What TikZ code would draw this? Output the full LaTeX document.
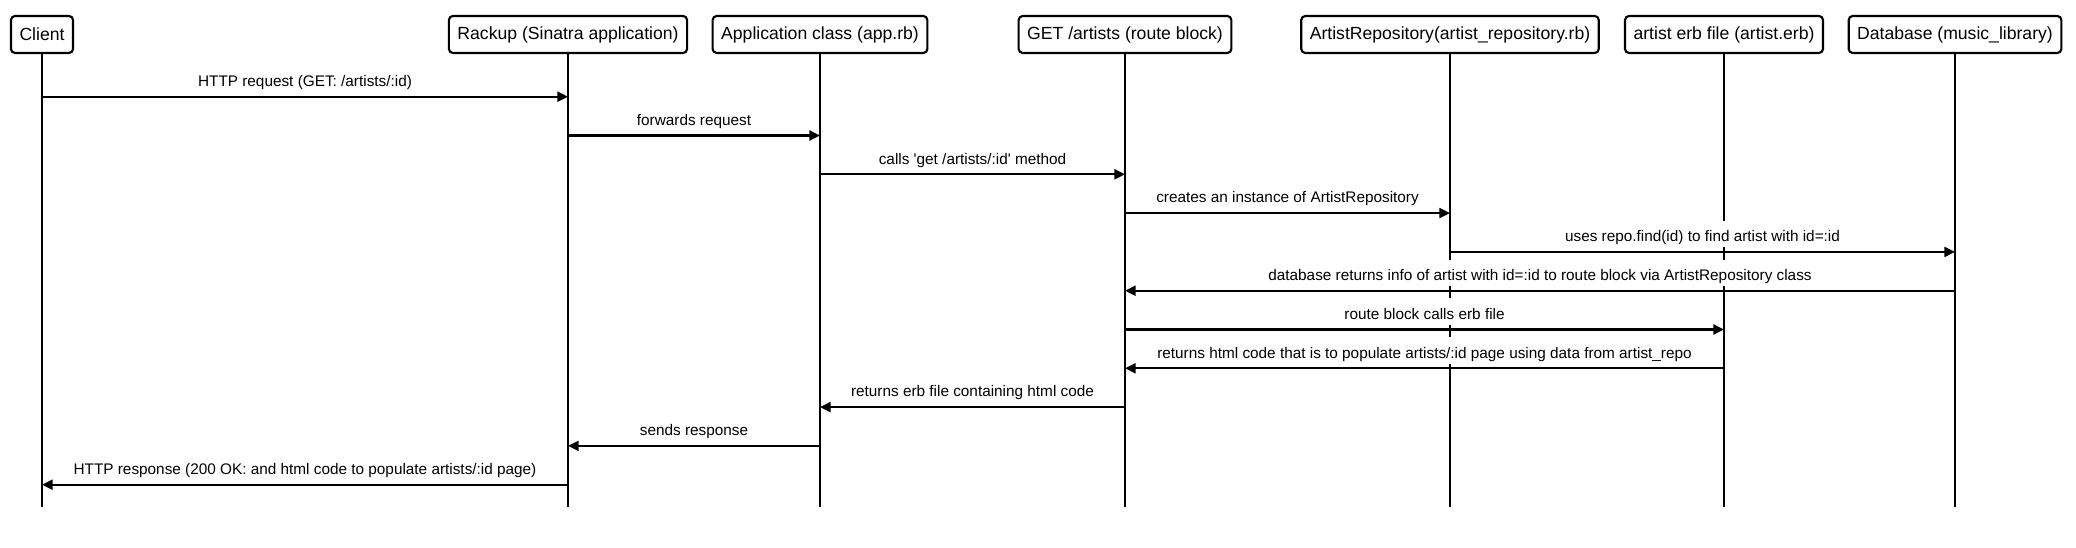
\documentclass[tikz,border=0pt]{standalone}
\usepackage{fontspec}
\setmainfont{Liberation Sans}[Ligatures=TeXOff]
\usetikzlibrary{arrows.meta,calc}

\begin{document}
\begin{tikzpicture}[x=0.75pt,y=-0.75pt,>={Triangle[length=8pt,width=7.5pt]},
  party/.style={draw,line width=1.6pt,rounded corners=3pt,minimum height=27.75pt,
    inner xsep=6.4pt,font=\fontsize{13.2}{15}\selectfont},
  life/.style={line width=1.5pt},
  msg/.style={->,line width=1.7pt},
  msglabel/.style={fill=white,inner xsep=2pt,inner ysep=0pt,text height=15.6pt,
    text depth=4.35pt,anchor=south,yshift=2.5pt,font=\fontsize{11.5}{13}\selectfont}]
  \useasboundingbox (0,0) rectangle (2076,548);

  % Participants (boxes at y=34.5)
  \node[party] (client) at (42,34.5)   {Client};
  \node[party] (rackup) at (568,34.5)  {Rackup (Sinatra application)};
  \node[party] (app)    at (820,34.5)  {Application class (app.rb)};
  \node[party] (route)  at (1125,34.5) {GET /artists (route block)};
  \node[party] (repo)   at (1450,34.5) {ArtistRepository(artist\_repository.rb)};
  \node[party] (erb)    at (1724,34.5) {artist erb file (artist.erb)};
  \node[party] (db)     at (1955,34.5) {Database (music\_library)};

  % Lifelines (from under each box down to y=507)
  \coordinate (bottom) at (0,507);
  \foreach \p in {client,rackup,app,route,repo,erb,db}
    \draw[life] (\p.south) -- (\p |- bottom);

  % Message rows, one every 38.8
  \foreach \i in {1,...,11}
    \coordinate (m\i) at (0,{96.7+38.8*(\i-1)});

  % 1) Request going in
  \draw[msg] (client |- m1) -- node[msglabel]{HTTP request (GET: /artists/:id)} (rackup |- m1);
  \draw[msg] (rackup |- m2) -- node[msglabel]{forwards request} (app |- m2);
  \draw[msg] (app |- m3) -- node[msglabel]{calls 'get /artists/:id' method} (route |- m3);

  % 2) Repository and database
  \draw[msg] (route |- m4) -- node[msglabel]{creates an instance of ArtistRepository} (repo |- m4);
  \draw[msg] (repo |- m5) -- node[msglabel]{uses repo.find(id) to find artist with id=:id} (db |- m5);
  \draw[msg] (db |- m6) -- node[msglabel]{database returns info of artist with id=:id to route block via ArtistRepository class} (route |- m6);

  % 3) Template
  \draw[msg] (route |- m7) -- node[msglabel]{route block calls erb file} (erb |- m7);
  \draw[msg] (erb |- m8) -- node[msglabel]{returns html code that is to populate artists/:id page using data from artist\_repo} (route |- m8);

  % 4) Response going back
  \draw[msg] (route |- m9) -- node[msglabel]{returns erb file containing html code} (app |- m9);
  \draw[msg] (app |- m10) -- node[msglabel]{sends response} (rackup |- m10);
  \draw[msg] (rackup |- m11) -- node[msglabel]{HTTP response (200 OK: and html code to populate artists/:id page)} (client |- m11);
\end{tikzpicture}
\end{document}
